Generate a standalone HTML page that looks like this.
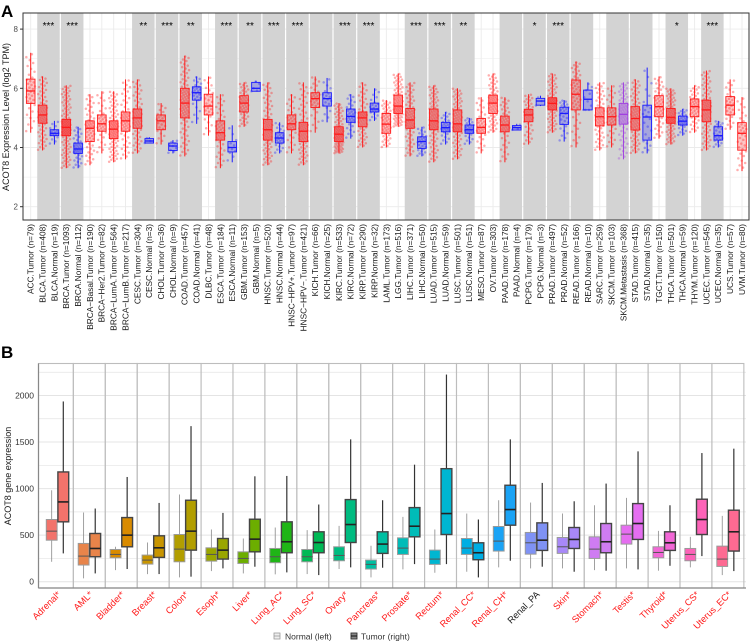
<!DOCTYPE html>
<html><head><meta charset="utf-8"><style>
html,body{margin:0;padding:0;background:#fff;width:750px;height:643px;overflow:hidden}
svg text{font-family:"Liberation Sans",Arial,sans-serif}
</style></head><body>
<svg id="fig" width="750" height="643" viewBox="0 0 750 643" xmlns="http://www.w3.org/2000/svg">
<text x="1" y="17" font-size="17" font-weight="bold">A</text>
<text x="1" y="358" font-size="17" font-weight="bold">B</text>
<g id="pa"></g>
<g id="pb"></g>
</svg>
<script>
// ---------- Panel A data ----------
const catsA = ["ACC.Tumor (n=79)","BLCA.Tumor (n=408)","BLCA.Normal (n=19)","BRCA.Tumor (n=1093)","BRCA.Normal (n=112)","BRCA\u2212Basal.Tumor (n=190)","BRCA\u2212Her2.Tumor (n=82)","BRCA\u2212LumA.Tumor (n=564)","BRCA\u2212LumB.Tumor (n=217)","CESC.Tumor (n=304)","CESC.Normal (n=3)","CHOL.Tumor (n=36)","CHOL.Normal (n=9)","COAD.Tumor (n=457)","COAD.Normal (n=41)","DLBC.Tumor (n=48)","ESCA.Tumor (n=184)","ESCA.Normal (n=11)","GBM.Tumor (n=153)","GBM.Normal (n=5)","HNSC.Tumor (n=520)","HNSC.Normal (n=44)","HNSC\u2212HPV+.Tumor (n=97)","HNSC\u2212HPV\u2212.Tumor (n=421)","KICH.Tumor (n=66)","KICH.Normal (n=25)","KIRC.Tumor (n=533)","KIRC.Normal (n=72)","KIRP.Tumor (n=290)","KIRP.Normal (n=32)","LAML.Tumor (n=173)","LGG.Tumor (n=516)","LIHC.Tumor (n=371)","LIHC.Normal (n=50)","LUAD.Tumor (n=515)","LUAD.Normal (n=59)","LUSC.Tumor (n=501)","LUSC.Normal (n=51)","MESO.Tumor (n=87)","OV.Tumor (n=303)","PAAD.Tumor (n=178)","PAAD.Normal (n=4)","PCPG.Tumor (n=179)","PCPG.Normal (n=3)","PRAD.Tumor (n=497)","PRAD.Normal (n=52)","READ.Tumor (n=166)","READ.Normal (n=10)","SARC.Tumor (n=259)","SKCM.Tumor (n=103)","SKCM.Metastasis (n=368)","STAD.Tumor (n=415)","STAD.Normal (n=35)","TGCT.Tumor (n=150)","THCA.Tumor (n=501)","THCA.Normal (n=59)","THYM.Tumor (n=120)","UCEC.Tumor (n=545)","UCEC.Normal (n=35)","UCS.Tumor (n=57)","UVM.Tumor (n=80)"];
const nA = [79,408,19,1093,112,190,82,564,217,304,3,36,9,457,41,48,184,11,153,5,520,44,97,421,66,25,533,72,290,32,173,516,371,50,515,59,501,51,87,303,178,4,179,3,497,52,166,10,259,103,368,415,35,150,501,59,120,545,35,57,80];
const lowA = [4.5,3.9,4.1,3.3,3.3,3.4,3.8,3.5,3.6,3.8,4.15,4.1,3.8,3.7,4.8,4.4,3.3,3.5,4.7,5.9,3.4,3.8,3.8,3.4,4.5,4.85,3.8,4.3,4.0,4.9,4.0,4.7,3.7,3.7,3.5,4.1,3.6,4.1,3.8,4.5,3.5,4.6,4.1,5.4,4.5,4.2,4.0,5.27,3.9,4.0,3.6,3.8,3.8,4.3,4.1,4.4,4.5,3.9,4.0,4.6,3.2];
const q1A = [5.49,4.82,4.4,4.4,3.8,4.2,4.55,4.3,4.55,4.65,4.15,4.6,3.9,5.0,5.6,5.1,4.25,3.85,5.2,5.9,4.25,4.15,4.6,4.2,5.35,5.4,4.2,4.85,4.7,5.2,4.48,5.15,4.65,3.97,4.6,4.53,4.53,4.48,4.48,5.15,4.53,4.59,4.87,5.43,5.27,4.78,5.27,5.27,4.73,4.76,4.79,4.59,4.25,5.04,4.82,4.76,5.04,4.87,4.25,5.1,3.91];
const medA = [5.91,5.1,4.48,4.68,3.95,4.65,4.8,4.62,4.9,5.0,4.22,4.9,4.05,5.5,5.85,5.4,4.5,4.0,5.5,6.0,4.6,4.32,4.8,4.55,5.65,5.65,4.45,5.05,5.0,5.3,4.79,5.4,4.93,4.2,4.9,4.67,4.8,4.6,4.68,5.5,4.76,4.67,5.1,5.57,5.49,5.15,5.8,5.63,5.04,5.04,5.12,4.98,5.03,5.38,5.02,4.89,5.38,5.27,4.4,5.43,4.48];
const q3A = [6.31,5.43,4.6,4.95,4.15,4.9,5.1,4.9,5.2,5.3,4.3,5.1,4.15,6.0,6.05,5.8,4.9,4.2,5.75,6.2,4.95,4.5,5.1,4.85,5.85,5.85,4.7,5.3,5.2,5.5,5.15,5.77,5.32,4.36,5.3,4.85,5.27,4.76,4.98,5.77,5.06,4.74,5.29,5.66,5.68,5.36,6.28,5.94,5.34,5.34,5.49,5.38,5.43,5.75,5.32,5.06,5.64,5.6,4.7,5.72,4.84];
const highA = [7.2,6.4,4.9,6.1,4.7,5.8,5.9,5.9,6.3,6.3,4.35,5.5,4.25,7.1,6.4,6.4,5.8,4.75,6.2,6.25,6.2,4.85,5.8,6.2,6.4,6.35,5.5,5.8,6.2,6.0,5.6,6.5,6.2,4.7,6.1,5.2,6.0,5.0,5.7,6.5,5.7,4.8,5.8,5.75,6.5,5.6,6.9,6.2,6.2,6.1,6.2,6.3,6.7,6.4,6.0,5.3,6.1,6.6,4.9,6.3,5.7];
const bandStartsA = [1,3,9,11,13,16,18,20,22,24,26,28,32,34,36,40,42,44,46,49,51,54,57];
const starIdxA = [1,3,9,11,13,16,18,20,22,26,28,32,34,36,42,44,54,57];
const starTxtA = ["***","***","**","***","**","***","**","***","***","***","***","***","***","**","*","***","*","***"];
const ticksA = [2,3,4,5,6,7,8];
const tickLabA = [2,4,6,8];

// ---------- Panel B data ----------
const catsB = ["Adrenal*","AML*","Bladder*","Breast*","Colon*","Esoph*","Liver*","Lung_AC*","Lung_SC*","Ovary*","Pancreas*","Prostate*","Rectum*","Renal_CC*","Renal_CH*","Renal_PA","Skin*","Stomach*","Testis*","Thyroid*","Uterus_CS*","Uterus_EC*"];
const nLow = [214,36,125,82,46,114,89,79,82,136,46,132,96,107,154,143,143,125,143,118,154,71];
const nQ1 = [446,179,257,189,214,221,196,204,214,225,136,293,186,293,329,296,304,250,404,257,225,164];
const nMed = [543,275,293,232,350,293,250,268,268,282,186,361,243,361,436,418,375,350,511,314,293,243];
const nQ3 = [668,411,346,286,507,364,321,357,346,375,232,471,339,464,593,529,475,482,607,375,357,382];
const nHigh = [982,743,375,421,936,561,464,582,554,600,386,696,561,732,875,850,732,821,900,546,482,707];
const tLow = [304,89,136,82,54,143,161,100,71,154,150,189,189,46,225,161,107,118,132,171,275,114];
const tQ1 = [643,268,375,261,339,243,321,311,311,421,304,482,507,236,607,336,357,311,454,336,507,329];
const tMed = [857,357,500,364,543,339,457,429,421,614,404,596,732,311,775,446,454,429,625,418,668,536];
const tQ3 = [1179,518,689,493,875,464,671,643,536,882,536,796,1214,418,1036,632,582,625,839,536,886,768];
const tHigh = [1936,786,1125,846,1671,739,1132,1136,829,1529,875,1257,2225,668,1529,1061,864,1054,1400,821,1382,1429];
const colorsB = ["#f2736b","#e8844a","#d98b00","#c89500","#b29e00","#9aa600","#6cae00","#1fb516","#00b955","#00bb80","#00bfa2","#00bcb8","#00b6d1","#00aee3","#1aa3f5","#7f92f5","#a888f8","#cf7cf2","#e56ef0","#f267d6","#fc63b8","#fd6a92"];
const ticksB = [0,500,1000,1500,2000];
const gridB = [250,750,1250,1750,2250];

const NS = "http://www.w3.org/2000/svg";
function mk(parent, tag, attrs, text){const e=document.createElementNS(NS,tag);for(const k in attrs)e.setAttribute(k,attrs[k]);if(text!==undefined)e.textContent=text;parent.appendChild(e);return e;}

// ---------- Panel A ----------
(function(){
const g=document.getElementById('pa');
const L=23,R=749,T=13,B=220;
const step=(742-30.7)/(catsA.length-1);
const xA=i=>30.7+i*step;
const yA=v=>206.7-(v-2)*29.6;
let e=mk(g,'rect',{x:L,y:T,width:R-L,height:B-T,fill:'#fff'});


ticksA.forEach(t=>{let l=mk(g,'line',{x1:L,x2:R,y1:yA(t),y2:yA(t),stroke:'#ebebeb','stroke-width':t%2===0?0.9:0.5});

});
catsA.forEach((c,i)=>{let l=mk(g,'line',{x1:xA(i),x2:xA(i),y1:T,y2:B,stroke:'#ebebeb','stroke-width':0.9});

});
bandStartsA.forEach(s=>{let r=mk(g,'rect',{x:xA(s)-step/2+0.6,y:T,width:2*step-1.2,height:B-T,fill:'#d3d3d3'});

});
// quantile helper
function qf(i,p){const k=[lowA[i],q1A[i],medA[i],q3A[i],highA[i]];const ps=[0,0.25,0.5,0.75,1];for(let j=0;j<4;j++){if(p<=ps[j+1]){return k[j]+(k[j+1]-k[j])*(p-ps[j])/(ps[j+1]-ps[j]);}}return k[4];}
catsA.forEach((c,i)=>{
 const isN=c.indexOf('Normal')>=0, isM=c.indexOf('Metastasis')>=0;
 const col=isM?'#a040e0':(isN?'#1a1aff':'#ff1a1a');
 const cnt=Math.min(nA[i],Math.max(3,Math.round(Math.sqrt(nA[i])*4)));
 const pg=mk(g,'g',{});
 
 
 for(let k=0;k<cnt;k++){
  const p=(k+0.5)/cnt;
  const frac=((k*0.618034)%1)-0.5;
  mk(pg,'circle',{cx:xA(i)+frac*9,cy:yA(qf(i,p)),r:1.25,fill:col,'fill-opacity':0.35});
 }
 const bx=mk(g,'g',{});
 
 
 const w=8.6,x=xA(i);
 mk(bx,'line',{x1:x,x2:x,y1:yA(lowA[i]),y2:yA(q1A[i]),stroke:col,'stroke-width':1});
 mk(bx,'line',{x1:x,x2:x,y1:yA(q3A[i]),y2:yA(highA[i]),stroke:col,'stroke-width':1});
 mk(bx,'rect',{x:x-w/2,y:yA(q3A[i]),width:w,height:yA(q1A[i])-yA(q3A[i]),fill:col,'fill-opacity':0.25,stroke:col,'stroke-width':0.9});
 mk(bx,'line',{x1:x-w/2,x2:x+w/2,y1:yA(medA[i]),y2:yA(medA[i]),stroke:col,'stroke-width':1.3});
 let t=mk(g,'text',{x:0,y:0,'font-size':8.3,fill:'#1a1a1a','text-anchor':'end',transform:`translate(${x+2.9},224) rotate(-90)`},c);
 
 
});
starIdxA.forEach((s,j)=>{let t=mk(g,'text',{x:(xA(s)+xA(s+1))/2,y:29,'font-size':10,'text-anchor':'middle',fill:'#000'},starTxtA[j]);

});
e=mk(g,'rect',{x:L,y:T,width:R-L,height:B-T,fill:'none',stroke:'#333','stroke-width':1});


tickLabA.forEach(t=>{mk(g,'line',{x1:L-3,x2:L,y1:yA(t),y2:yA(t),stroke:'#333'});
let tx=mk(g,'text',{x:L-5,y:yA(t)+3,'font-size':8,'text-anchor':'end',fill:'#4d4d4d'},String(t));

});
e=mk(g,'text',{x:0,y:0,'font-size':9,'text-anchor':'middle',fill:'#1a1a1a',transform:'translate(9,117) rotate(-90)'},'ACOT8 Expression Level (log2 TPM)');


})();

// ---------- Panel B ----------
(function(){
const g=document.getElementById('pb');
const T=363.5,B=588,L=38.5,R=746;
const fw=31.93,fx=k=>41.4+k*fw;
const yB=v=>581.7-v*0.0931;
gridB.concat(ticksB).forEach(t=>{let l=mk(g,'line',{x1:L,x2:R,y1:yB(t),y2:yB(t),stroke:'#e4e4e4','stroke-width':t%500===0?1:0.7});

});
catsB.forEach((c,k)=>{
 const x0=fx(k);
 let f=mk(g,'rect',{x:x0-3.4*(k===0?1:0)+0,y:T,width:fw,height:B-T,fill:'none',stroke:'#bdbdbd','stroke-width':1.1});
 if(k===0){f.setAttribute('x',L);f.setAttribute('width',fx(1)-L);}
 
 
 const col=colorsB[k];
 const sets=[[nLow,nQ1,nMed,nQ3,nHigh,10.3,'#9a9a9a',1,'#555',1],[tLow,tQ1,tMed,tQ3,tHigh,21.9,'#444',1.4,'#222',1.6]];
 sets.forEach((s,si)=>{
  const x=x0+s[5],w=10.8;
  const bg=mk(g,'g',{});
  
  
  mk(bg,'line',{x1:x,x2:x,y1:yB(s[0][k]),y2:yB(s[1][k]),stroke:si?'#333':'#888','stroke-width':si?1.2:0.8});
  mk(bg,'line',{x1:x,x2:x,y1:yB(s[3][k]),y2:yB(s[4][k]),stroke:si?'#333':'#888','stroke-width':si?1.2:0.8});
  mk(bg,'rect',{x:x-w/2,y:yB(s[3][k]),width:w,height:yB(s[1][k])-yB(s[3][k]),fill:col,stroke:s[6],'stroke-width':s[7]});
  mk(bg,'line',{x1:x-w/2,x2:x+w/2,y1:yB(s[2][k]),y2:yB(s[2][k]),stroke:s[8],'stroke-width':s[9]});
 });
 let t=mk(g,'text',{x:0,y:0,'font-size':9.3,'text-anchor':'end',fill:c.indexOf('*')>=0?'#ff1a1a':'#1a1a1a',transform:`translate(${x0+fw/2+4},595) rotate(-45)`},c);
 
 
});
let e=mk(g,'line',{x1:L,x2:L,y1:T,y2:B,stroke:'#888','stroke-width':1.2});


e=mk(g,'line',{x1:L,x2:R,y1:B,y2:B,stroke:'#888','stroke-width':1.2});


ticksB.forEach(t=>{let tx=mk(g,'text',{x:34,y:yB(t)+3,'font-size':8.5,'text-anchor':'end',fill:'#333'},String(t));

});
e=mk(g,'text',{x:0,y:0,'font-size':9,'text-anchor':'middle',fill:'#1a1a1a',transform:'translate(11,476) rotate(-90)'},'ACOT8 gene expression');


// legend
const lg=mk(g,'g',{});


const l1=mk(lg,'g',{});


mk(l1,'rect',{x:274,y:633,width:6,height:6,fill:'#eee',stroke:'#999','stroke-width':0.8});
mk(l1,'line',{x1:274,x2:280,y1:636,y2:636,stroke:'#999','stroke-width':0.8});
mk(l1,'text',{x:285,y:639.5,'font-size':8.5,fill:'#333'},'Normal (left)');
const l2=mk(lg,'g',{});


mk(l2,'rect',{x:351,y:633,width:6,height:6,fill:'#888',stroke:'#333','stroke-width':0.9});
mk(l2,'line',{x1:351,x2:357,y1:636,y2:636,stroke:'#111','stroke-width':1});
mk(l2,'text',{x:361,y:639.5,'font-size':8.5,fill:'#333'},'Tumor (right)');
})();
</script>
</body></html>
